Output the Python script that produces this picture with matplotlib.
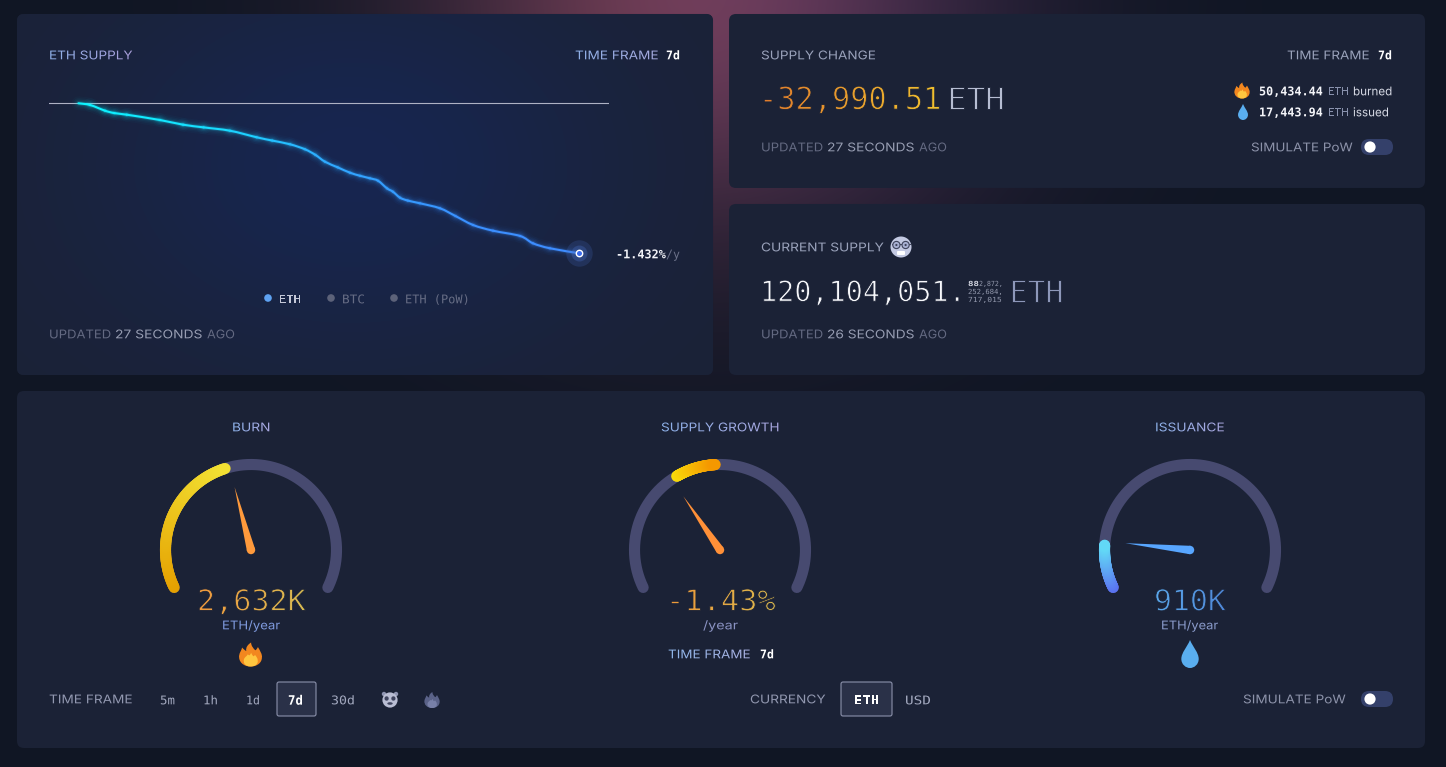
import numpy as np
import matplotlib
matplotlib.use("Agg")
import matplotlib.pyplot as plt
from matplotlib.collections import PathCollection
from matplotlib.collections import LineCollection
from matplotlib.colors import LinearSegmentedColormap, to_rgb
from matplotlib.patches import FancyBboxPatch, Circle, PathPatch, Ellipse
from matplotlib.path import Path
from matplotlib.patheffects import AbstractPathEffect
from matplotlib.transforms import Affine2D, Bbox

# ---------- data ----------
supply_hours = [0, 3.9, 8.9, 12, 16.2, 27.3, 35.1, 42, 50.8, 59.8, 65, 71, 76, 79.5, 82.7, 87,
                91.1, 94.5, 97.8, 100.5, 103.5, 105.5, 107.9, 110.5, 114.6, 121.3, 126.5, 132.4,
                139.1, 148.2, 152.5, 158.2, 168]
supply_delta = [0, -374, -1628, -2150, -2508, -3674, -4708, -5300, -6028, -7480, -8200, -9020,
                -10120, -11350, -12848, -14100, -15268, -15950, -16500, -17028, -18700, -19448,
                -20768, -21400, -22000, -23100, -24800, -26774, -28028, -29194, -30800, -31900,
                -32990]
gauge_titles = ["BURN", "SUPPLY GROWTH", "ISSUANCE"]
gauge_values = ["2,632K", "-1.43%", "910K"]
gauge_units = ["ETH/year", "/year", "ETH/year"]
gauge_fill_from = [0.0, 0.369, 0.0]
gauge_fill_to = [0.424, 0.486, 0.126]
gauge_needle = [0.437, 0.352, 0.138]
timeframes = ["5m", "1h", "1d", "7d", "30d"]

W, H = 1446, 767
plt.rcParams["font.family"] = ["Inter", "Roboto", "DejaVu Sans"]
fig = plt.figure(figsize=((W + .01) / 100, (H + .01) / 100), dpi=100, facecolor="#111726")
ax = fig.add_axes([0, 0, 1, 1], zorder=0)
ax.set_xlim(0, W)
ax.set_ylim(H, 0)
ax.axis("off")
renderer = fig.canvas.get_renderer()

MONO = ["DejaVu Sans Mono"]
SANS = ["Inter", "Roboto", "DejaVu Sans"]
CARD = "#1b2236"


class Fit(AbstractPathEffect):
    """Stretch a text run to its measured width; optional colour ramp and thinner strokes."""

    def __init__(self, sx, colors=None, erode=0.0):
        super().__init__()
        self.sx, self.colors, self.erode = sx, colors, erode

    def _draw(self, renderer, gc, tpath, aff, color, clip=None):
        g = renderer.new_gc()
        g.copy_properties(gc)
        if clip is not None:
            g.set_clip_rectangle(clip)
        g.set_linewidth(self.erode)
        if self.erode:
            g.set_foreground(CARD)
        renderer.draw_path(g, tpath, aff, color)
        g.restore()

    def draw_path(self, renderer, gc, tpath, affine, rgbFace=None):
        x0 = affine.get_matrix()[0, 2]
        aff = affine + Affine2D().translate(-x0, 0).scale(self.sx, 1).translate(x0, 0)
        if self.colors is None:
            self._draw(renderer, gc, tpath, aff, rgbFace)
            return
        ext = tpath.transformed(aff).get_extents()
        c0, c1 = np.array(to_rgb(self.colors[0])), np.array(to_rgb(self.colors[1]))
        edges = np.arange(np.floor(ext.x0) - 2, np.ceil(ext.x1) + 4, 2)
        for a, b in zip(edges[:-1], edges[1:]):
            t = np.clip((a - ext.x0) / max(ext.width, 1), 0, 1)
            self._draw(renderer, gc, tpath, aff, tuple(c0 + (c1 - c0) * t),
                       Bbox.from_extents(a, 0, b, H + 10))


def label(x0, x1, y, s, px, color="#ffffff", family=SANS, weight="normal", grad=None, erode=0.0, z=6):
    t = ax.text(x0, y + 0.36 * px, s, fontsize=px * 0.72, color=color, family=family,
                weight=weight, ha="left", va="baseline", zorder=z)
    w = t.get_window_extent(renderer).width
    t.set_path_effects([Fit((x1 - x0) / max(w, 1), grad, erode)])
    return t


def card(x0, y0, x1, y1, fc=CARD):
    p = FancyBboxPatch((x0, y0), x1 - x0, y1 - y0, boxstyle="round,pad=0,rounding_size=7",
                       fc=fc, ec="none", zorder=2)
    ax.add_patch(p)
    return p


# ---------- backgrounds ----------
xx, yy = np.meshgrid(np.arange(W), np.arange(H))
glow = np.exp(-((xx - 700) / 265.0) ** 2 - ((yy + 5) / 235.0) ** 2)
base = np.array([16, 22, 36.0])
peak_l = np.array([114, 62, 86.0])
peak_r = np.array([104, 60, 104.0])
mix = np.clip((xx - 600) / 400.0, 0, 1)[..., None]
peak = peak_l * (1 - mix) + peak_r * mix
img = (base + (peak - base) * glow[..., None]) / 255
ax.imshow(img, extent=(0, W, H, 0), aspect="auto", zorder=1, interpolation="bilinear")
ax.set_xlim(0, W)
ax.set_ylim(H, 0)

left = card(17, 14, 713, 375)
card(729, 14, 1425, 188)
card(729, 204, 1425, 375)
card(17, 391, 1425, 748)
g2 = np.exp(-((xx - 350) / 260.0) ** 2 - ((yy - 165) / 190.0) ** 2)[..., None]
c_edge, c_mid = np.array([27, 34, 54.0]), np.array([23, 38, 80.0])
blue = ax.imshow(np.clip((c_edge + (c_mid - c_edge) * g2) / 255, 0, 1), extent=(0, W, H, 0),
                 aspect="auto", zorder=2.5, interpolation="bilinear")
blue.set_clip_path(left)
ax.set_xlim(0, W)
ax.set_ylim(H, 0)

# ---------- supply line chart ----------
PX_PER_H, PX_PER_ETH = 2.98, 1 / 220.0
cx0, cx1, cy0, cy1 = 49, 609, 80, 280
lax = fig.add_axes([cx0 / W, 1 - cy1 / H, (cx1 - cx0) / W, (cy1 - cy0) / H], zorder=3)
lax.patch.set_alpha(0)
lax.axis("off")
lax.set_xlim((cx0 - 78.5) / PX_PER_H, (cx1 - 78.5) / PX_PER_H)
lax.set_ylim(-(cy1 - 103.3) / PX_PER_ETH, (103.3 - cy0) / PX_PER_ETH)
lax.axhline(0, color="#aeb2c4", lw=0.8, zorder=1)
pts = np.column_stack([supply_hours, supply_delta], ).astype(float)
# each stretch between two read points is one bezier whose handles follow the neighbouring points
padded = np.vstack([pts[0], pts, pts[-1]])
curve_paths = []
for k in range(1, len(padded) - 2):
    p0, p1, p2, p3 = padded[k - 1], padded[k], padded[k + 1], padded[k + 2]
    curve_paths.append(Path([p1, p1 + (p2 - p0) / 6, p2 - (p3 - p1) / 6, p2],
                            [Path.MOVETO, Path.CURVE4, Path.CURVE4, Path.CURVE4]))
line_cmap = LinearSegmentedColormap.from_list("l", ["#0cf4ff", "#18dcff", "#30a8ff", "#3a90ff", "#3f8cff"])
seg_col = line_cmap(np.array(supply_hours[:-1]) / 168.0)


def curve(lw, alpha, z):
    pc = PathCollection(curve_paths, facecolors="none", edgecolors=seg_col, linewidths=lw, alpha=alpha,
                        capstyle="round", transform=lax.transData, zorder=z)
    lax.add_collection(pc, autolim=False)


for lw, al in [(10, .025), (7.5, .035), (5.5, .05), (3.6, .09), (2.6, .14)]:
    curve(lw, al, 2)
curve(1.5, None, 3)
lax.plot(supply_hours[-1], supply_delta[-1], "o", ms=19, mfc="#4a72cc", mec="none", alpha=.2, zorder=4)
lax.plot(supply_hours[-1], supply_delta[-1], "o", ms=11.5, mfc="#4a72cc", mec="none", alpha=.3, zorder=4)
lax.plot(supply_hours[-1], supply_delta[-1], "o", ms=4.6, mfc="#3b6cf0", mec="#ffffff", mew=1.0, zorder=5)

# ---------- header text ----------
LAB = "#9aa2bb"
label(49, 132, 55, "ETH SUPPLY", 12, grad=("#8fb0e8", "#a89cd8"))
label(575, 658, 55, "TIME FRAME", 12, grad=("#8fb0e8", "#a5a8dc"))
label(666, 680, 55, "7d", 12, "#ffffff", MONO, "bold")
for x, col, tcol, s, a, b in [(268, "#5ea2f2", "#c4c8d8", "ETH", 279, 301),
                              (331, "#5c6279", "#666c84", "BTC", 342, 365),
                              (394, "#5c6279", "#666c84", "ETH (PoW)", 405, 470)]:
    ax.add_patch(Circle((x, 298), 3.8, fc=col, ec="none", zorder=6))
    label(a, b, 299, s, 12, tcol, MONO)
label(616, 666, 254, "-1.432%", 12, "#f2f3f8", MONO, "bold")
label(666, 680, 254, "/y", 12, "#6b7189", MONO)


def updated(x, y, s):
    label(x, x + 62, y, "UPDATED", 12, "#646a82")
    label(x + 66, x + 153, y, s, 12, "#979db2")
    label(x + 158, x + 186, y, "AGO", 12, "#646a82")


updated(49, 334, "27 SECONDS")
updated(761, 147, "27 SECONDS")
updated(761, 334, "26 SECONDS")

label(761, 875, 55, "SUPPLY CHANGE", 12, LAB)
label(1287, 1369, 55, "TIME FRAME", 12, LAB)
label(1378, 1392, 55, "7d", 12, "#ffffff", MONO, "bold")
ER = 0.6
label(759, 941, 98, "-32,990.51", 31, family=MONO, grad=("#e07c2c", "#f2c22e"), erode=ER)
label(947, 1004, 98, "ETH", 31, "#b6bdd2", MONO, erode=ER)
label(1259, 1323, 91, "50,434.44", 12, "#f4f5f9", MONO, "bold")
label(1328, 1349, 91, "ETH", 12, "#8992ad")
label(1353, 1392, 91, "burned", 12, "#d8dbe6")
label(1259, 1323, 112, "17,443.94", 12, "#f4f5f9", MONO, "bold")
label(1328, 1349, 112, "ETH", 12, "#8992ad")
label(1353, 1389, 112, "issued", 12, "#d8dbe6")

label(761, 883, 247, "CURRENT SUPPLY", 12, LAB)
label(760, 966, 291, "120,104,051.", 28.4, "#f7f8fb", MONO, erode=ER)
label(968, 979, 283.5, "88", 7, "#d4d7e2", MONO, "bold")
label(979, 1003, 283.5, "2,872,", 7, "#9298ac", MONO)
label(968, 1003, 291.5, "252,684,", 7, "#9298ac", MONO)
label(968, 1002, 299.5, "717,015", 7, "#9298ac", MONO)
label(1009, 1063, 291, "ETH", 31, "#8d97b9", MONO, erode=ER)


# ---------- icons ----------
CODES = [Path.MOVETO] + [Path.CURVE4] * 24
FLAME = [(0, 1), (-.6, 1), (-1, .6), (-.95, .1), (-.9, -.2), (-.75, -.35), (-.7, -.58),
         (-.55, -.42), (-.45, -.32), (-.35, -.3), (-.42, -.6), (-.2, -.85), (.05, -1),
         (.05, -.7), (.25, -.5), (.4, -.35), (.5, -.4), (.55, -.5), (.62, -.62),
         (.8, -.3), (1, 0), (.95, .25), (.95, .65), (.6, 1), (0, 1)]
INNER = [(0, 1), (-.45, 1), (-.62, .7), (-.55, .42), (-.5, .2), (-.3, .15), (-.22, -.02),
         (-.12, .1), (-.05, .12), (.05, -.15), (.12, .02), (.2, .12), (.25, .15),
         (.3, .12), (.34, .08), (.38, .04), (.5, .2), (.6, .3), (.6, .5),
         (.62, .6), (.6, .65), (.58, .7), (.5, .9), (.3, 1), (0, 1)]
DROP_V = [(0, -1), (.2, -.5), (.62, -.1), (.62, .35), (.62, .75), (.3, 1), (0, 1),
          (-.3, 1), (-.62, .75), (-.62, .35), (-.62, -.1), (-.2, -.5), (0, -1)]
DROP_C = [Path.MOVETO] + [Path.CURVE4] * 12


def shape(verts, codes, cx, cy, r, fc, z=6):
    v = np.array(verts, float) * r + (cx, cy)
    ax.add_patch(PathPatch(Path(v, codes), fc=fc, ec="none", zorder=z))


def flame(cx, cy, r, outer="#f2871f", inner="#ffc63f"):
    shape(FLAME, CODES, cx, cy, r, outer)
    shape(INNER, CODES, cx, cy, r, inner, 6.5)


def drop(cx, cy, r):
    shape(DROP_V, DROP_C, cx, cy, r, "#5aaeef")


def toggle(cx, cy):
    ax.add_patch(FancyBboxPatch((cx - 16, cy - 8), 32, 16, boxstyle="round,pad=0,rounding_size=8",
                                fc="#34406a", ec="none", zorder=6))
    ax.add_patch(Circle((cx - 7, cy), 5.6, fc="#ffffff", ec="none", zorder=7))


flame(1242, 90.5, 8)
drop(1243, 112, 8)
label(1251, 1352, 147, "SIMULATE PoW", 12, "#8d93aa")
toggle(1377, 147)

# nerd face
ax.add_patch(Circle((901, 247), 10.5, fc="#c3c9e2", ec="none", zorder=6))
for dx in (-4.6, 4.6):
    ax.add_patch(Circle((901 + dx, 245), 3.6, fc="#a8b0d2", ec="#3f445c", lw=.8, zorder=7))
    ax.add_patch(Circle((901 + dx, 245), 1.1, fc="#3f445c", ec="none", zorder=8))
ax.plot([892, 910], [244.5, 244.5], color="#3f445c", lw=.7, zorder=6.5)
ax.add_patch(FancyBboxPatch((897, 251), 8, 4, boxstyle="round,pad=0,rounding_size=1",
                            fc="#ffffff", ec="none", zorder=7))

# ---------- gauges ----------
START, SWEEP, R, TRACK = 206.0, 232.0, 85.5, "#474a70"
centers = [(251, 550), (720, 550), (1190, 550)]
fills = [("#e5a000", "#f2e032"), ("#f8dc0a", "#f59800"), ("#5a72f0", "#62d8f6")]
needles = ["#ff9a3c", "#ff9038", "#58a6ff"]
title_x = [(232, 270), (661, 779), (1155, 1224)]
val_x = [(197, 306), (666, 776), (1154, 1226)]
val_col = [("#f09a3e", "#d9bc52"), ("#ee9a3a", "#dcb94e"), ("#5aa6ea", "#4f88d8")]
unit_x = [(222, 280), (703, 738), (1161, 1218)]
unit_col = ["#7f9ade", "#8a92c2", "#8b9ccc"]


def arc(f0, f1, c, n=80):
    a = np.radians(START - SWEEP * np.linspace(f0, f1, n))
    return np.column_stack([c[0] + R * np.cos(a), c[1] - R * np.sin(a)])


for i, c in enumerate(centers):
    tr = arc(0, 1, c, 160)
    ax.plot(tr[:, 0], tr[:, 1], color=TRACK, lw=8.0, solid_capstyle="round", zorder=4)
    fp = arc(gauge_fill_from[i], gauge_fill_to[i], c)
    cm = LinearSegmentedColormap.from_list("f", fills[i])
    lc = LineCollection(np.stack([fp[:-1], fp[1:]], axis=1), colors=cm(np.linspace(0, 1, len(fp) - 1)),
                        linewidths=8.0, capstyle="round", zorder=5)
    ax.add_collection(lc)
    ang = np.radians(START - SWEEP * gauge_needle[i])
    tip = np.array([c[0] + 65 * np.cos(ang), c[1] - 65 * np.sin(ang)])
    nrm = np.array([np.sin(ang), np.cos(ang)])
    base_c = np.array(c, float)
    tri = np.array([tip, base_c + nrm * 4.2, base_c - nrm * 4.2])
    ax.fill(tri[:, 0], tri[:, 1], color=needles[i], ec="none", zorder=6)
    ax.add_patch(Circle(c, 4.2, fc=needles[i], ec="none", zorder=6))
    label(*title_x[i], 427, gauge_titles[i], 12, grad=("#8db0e8", "#a9a6de"))
    label(*val_x[i], 600, gauge_values[i], 29, family=MONO, grad=val_col[i], erode=ER)
    label(*unit_x[i], 625, gauge_units[i], 12, unit_col[i])

flame(250.5, 654.5, 12)
drop(1190, 654, 14)
label(668, 750, 654, "TIME FRAME", 12, grad=("#8fb6ea", "#a9b0e0"))
label(760, 774, 654, "7d", 12, "#ffffff", MONO, "bold")


# ---------- controls ----------
def button(x0, x1):
    ax.add_patch(FancyBboxPatch((x0, 682), x1 - x0, 34, boxstyle="round,pad=0,rounding_size=2",
                                fc="#2a3148", ec="#8b91ab", lw=.8, zorder=5))


label(49, 132, 699, "TIME FRAME", 12, "#9298b0")
button(277, 316)
tf_x = [(160, 175), (203, 218), (246, 260), (288, 303), (331, 355)]
for s, (a, b) in zip(timeframes, tf_x):
    if s == "7d":
        label(a, b, 700, s, 13, "#ffffff", MONO, "bold")
    else:
        label(a, b, 700, s, 12, "#a3a9bf", MONO)

# panda
ax.add_patch(Circle((384, 694), 2.2, fc="#8f95b2", ec="none", zorder=6))
ax.add_patch(Circle((396, 694), 2.2, fc="#8f95b2", ec="none", zorder=6))
ax.add_patch(Circle((390, 700), 7.6, fc="#b9bdd3", ec="none", zorder=6))
for dx in (-3.4, 3.4):
    ax.add_patch(Ellipse((390 + dx, 698.5), 4.2, 4.4, fc="#3f445e", ec="none", zorder=7))
ax.add_patch(Ellipse((390, 703.5), 5.4, 2.6, fc="#3f445e", ec="none", zorder=7))
flame(432, 700, 8, "#5a6288", "#7880a8")

label(750, 825, 699, "CURRENCY", 12, "#9298b0")
button(841, 892)
label(854, 879, 700, "ETH", 12.5, "#ffffff", MONO, "bold")
label(905, 931, 700, "USD", 12, "#a3a9bf", MONO)
label(1243, 1345, 699, "SIMULATE PoW", 12, "#8d93aa")
toggle(1377, 699)

fig.savefig("out.png", dpi=100, facecolor=fig.get_facecolor())
